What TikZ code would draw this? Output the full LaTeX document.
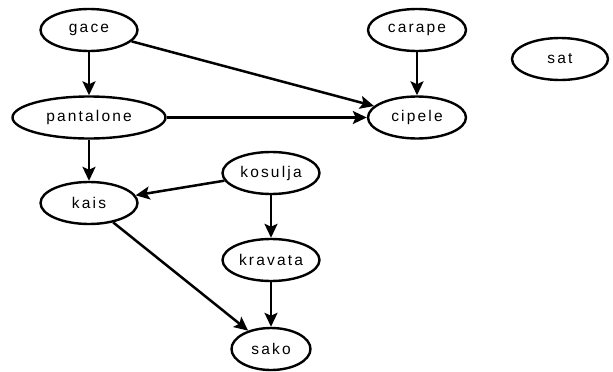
\documentclass[tikz,border=0pt]{standalone}
\usepackage{fontspec}
\usetikzlibrary{shapes.geometric,arrows.meta}
\newfontfamily\labfont[LetterSpace=14]{Liberation Sans}
\begin{document}
\begin{tikzpicture}[x=1pt,y=-1pt,
  nd/.style={ellipse,draw,line width=2.4pt,inner sep=0pt,minimum height=42pt,
    font=\labfont\fontsize{15.5}{18}\selectfont},
  ed/.style={line width=2.5pt,-{Stealth[length=14pt,width=13pt,inset=3pt]}}]
\useasboundingbox (0,0) rectangle (613,372);
\node[nd,minimum width=97pt] (gace) at (89,30) {gace};
\node[nd,minimum width=153pt] (pantalone) at (89,117.5) {pantalone};
\node[nd,minimum width=97pt] (kais) at (89,203) {kais};
\node[nd,minimum width=97pt] (kosulja) at (271,173) {kosulja};
\node[nd,minimum width=97pt] (kravata) at (271,260) {kravata};
\node[nd,minimum width=79pt] (sako) at (271,349) {sako};
\node[nd,minimum width=98pt] (carape) at (417,30) {carape};
\node[nd,minimum width=98pt] (cipele) at (417,117.5) {cipele};
\node[nd,minimum width=96pt] (sat) at (560,59) {sat};
\draw[ed] (gace) -- (pantalone);
\draw[ed] (gace) -- (cipele);
\draw[ed] (pantalone) -- (cipele);
\draw[ed] (carape) -- (cipele);
\draw[ed] (pantalone) -- (kais);
\draw[ed] (kosulja) -- (kais);
\draw[ed] (kosulja) -- (kravata);
\draw[ed] (kais) -- (sako);
\draw[ed] (kravata) -- (sako);
\end{tikzpicture}
\end{document}
